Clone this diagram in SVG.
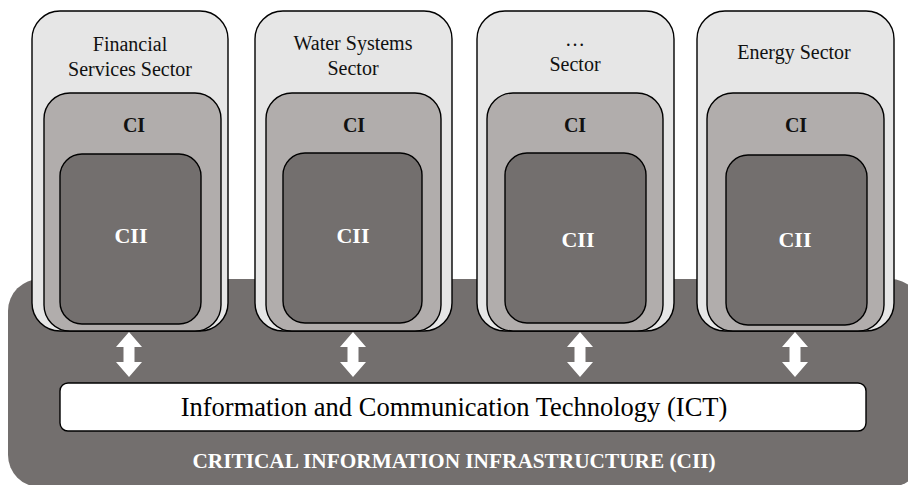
<svg xmlns="http://www.w3.org/2000/svg" width="908" height="485" viewBox="0 0 908 485">
  <style>
    .bg { fill: #736f6e; }
    .sector { fill: #e6e6e6; stroke: #000; stroke-width: 1.4; }
    .ci { fill: #b1adac; stroke: #000; stroke-width: 1.4; }
    .cii { fill: #736f6e; stroke: #000; stroke-width: 1.4; }
    .lbl { font-family: "Liberation Serif", "Times New Roman", serif; font-size: 20px; fill: #111; text-anchor: middle; }
    .cil { font-family: "Liberation Serif", "Times New Roman", serif; font-size: 20px; font-weight: bold; fill: #111; text-anchor: middle; }
    .ciil { font-family: "Liberation Serif", "Times New Roman", serif; font-size: 22px; font-weight: bold; fill: #fff; text-anchor: middle; }
    .arrow { fill: #fff; }
    .ict { fill: #fff; stroke: #000; stroke-width: 1.4; }
    .ictl { font-family: "Liberation Serif", "Times New Roman", serif; font-size: 26.5px; fill: #000; text-anchor: middle; }
    .title { font-family: "Liberation Serif", "Times New Roman", serif; font-size: 21.3px; font-weight: bold; fill: #fff; text-anchor: middle; }
  </style>
  <defs>
    <polygon id="darrow" class="arrow" points="0,0 13,15 5.5,15 5.5,30 13,30 0,45 -13,30 -5.5,30 -5.5,15 -13,15"/>
  </defs>

  <g id="cii-infrastructure">
    <rect class="bg" x="8" y="279" width="914" height="208" rx="32"/>
    <text class="title" x="454" y="468">CRITICAL INFORMATION INFRASTRUCTURE (CII)</text>
  </g>

  <g id="sector-financial">
    <rect class="sector" x="32" y="11" width="196" height="320" rx="28"/>
    <text class="lbl" x="130" y="51">Financial</text>
    <text class="lbl" x="130" y="76">Services Sector</text>
    <rect class="ci" x="44" y="93" width="177" height="238" rx="26"/>
    <text class="cil" x="134" y="132">CI</text>
    <rect class="cii" x="60" y="154" width="141" height="170" rx="22"/>
    <text class="ciil" x="131" y="243">CII</text>
  </g>

  <g id="sector-water">
    <rect class="sector" x="255" y="11" width="197" height="320" rx="28"/>
    <text class="lbl" x="353" y="50">Water Systems</text>
    <text class="lbl" x="353" y="75">Sector</text>
    <rect class="ci" x="266" y="93" width="175" height="238" rx="26"/>
    <text class="cil" x="354" y="132">CI</text>
    <rect class="cii" x="283" y="153" width="139" height="170" rx="22"/>
    <text class="ciil" x="353" y="243">CII</text>
  </g>

  <g id="sector-other">
    <rect class="sector" x="477" y="11" width="197" height="320" rx="28"/>
    <text class="lbl" x="575" y="46">…</text>
    <text class="lbl" x="575" y="71">Sector</text>
    <rect class="ci" x="487" y="93" width="176" height="238" rx="26"/>
    <text class="cil" x="575" y="132">CI</text>
    <rect class="cii" x="505" y="153" width="141" height="170" rx="22"/>
    <text class="ciil" x="578" y="247">CII</text>
  </g>

  <g id="sector-energy">
    <rect class="sector" x="697" y="11" width="197" height="320" rx="28"/>
    <text class="lbl" x="794" y="59">Energy Sector</text>
    <rect class="ci" x="707" y="93" width="177" height="238" rx="26"/>
    <text class="cil" x="796" y="132">CI</text>
    <rect class="cii" x="726" y="155" width="141" height="170" rx="22"/>
    <text class="ciil" x="795" y="247">CII</text>
  </g>

  <g id="ict">
    <rect class="ict" x="60" y="383" width="806" height="48" rx="8"/>
    <text class="ictl" x="454" y="416">Information and Communication Technology (ICT)</text>
  </g>

  <g id="connectors">
    <use href="#darrow" x="129" y="332"/>
    <use href="#darrow" x="353" y="332"/>
    <use href="#darrow" x="580" y="332"/>
    <use href="#darrow" x="795" y="332"/>
  </g>
</svg>
